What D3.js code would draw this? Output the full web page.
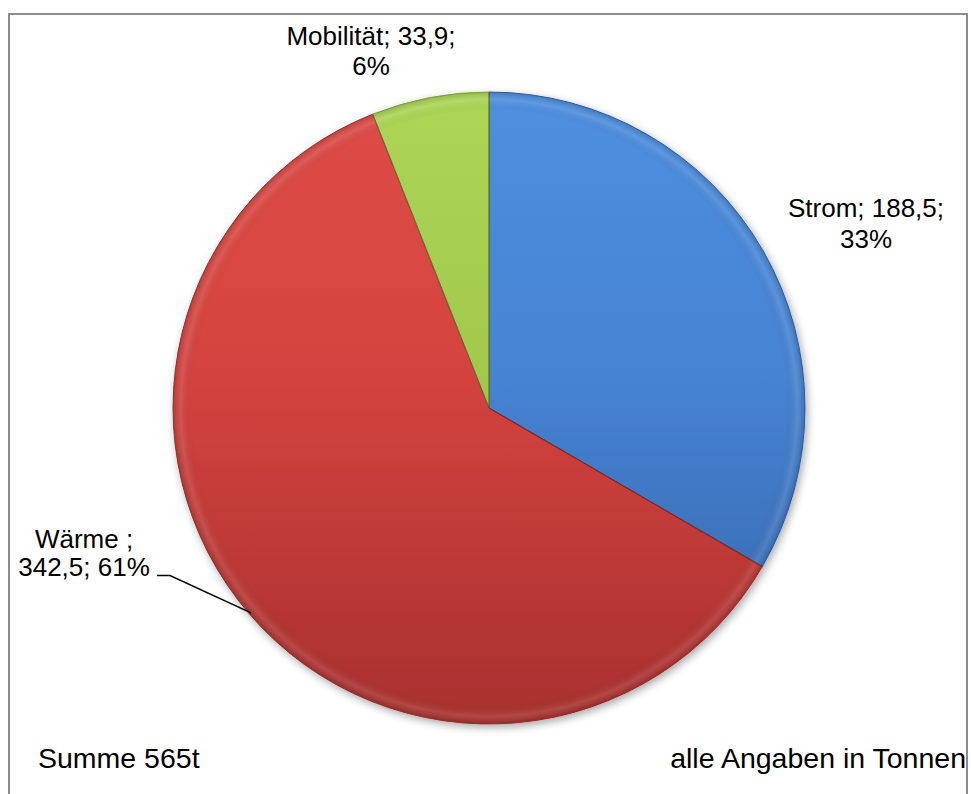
<!DOCTYPE html>
<html>
<head>
<meta charset="utf-8">
<script src="https://cdn.jsdelivr.net/npm/d3@7"></script>
<style>
  html, body { margin: 0; padding: 0; background: #fff; }
  svg { display: block; }
  text { font-family: "Liberation Sans", Arial, sans-serif; fill: #000; }
</style>
</head>
<body>
<svg id="chart" width="971" height="794"></svg>
<script>
// ---- data ----
const categories = ["Strom", "Wärme ", "Mobilität"];
const values = [188.5, 342.5, 33.9];
const totalLabel = "Summe 565t";
const unitNote = "alle Angaben in Tonnen";

// ---- styling / layout ----
const cx = 489, cy = 408, R = 316;
const baseColors = ["#4683d3", "#d4433f", "#a2c84c"];
const darkColors = ["#3563a8", "#a8302e", "#86aa36"];
const lightColors = ["#4e8fe0", "#df4c47", "#acd656"];

const svg = d3.select("#chart");
const defs = svg.append("defs");

// frame
svg.append("rect").attr("x", 9).attr("y", 14).attr("width", 958).attr("height", 800)
  .attr("fill", "#fff").attr("stroke", "#8c8c8c").attr("stroke-width", 2);

// shadow filter
const f = defs.append("filter").attr("id", "shadow").attr("x", "-10%").attr("y", "-10%").attr("width", "120%").attr("height", "120%");
f.append("feGaussianBlur").attr("in", "SourceAlpha").attr("stdDeviation", 4).attr("result", "b");
f.append("feOffset").attr("in", "b").attr("dx", 2).attr("dy", 3).attr("result", "o");
f.append("feComponentTransfer").attr("in", "o").attr("result", "o2")
  .append("feFuncA").attr("type", "linear").attr("slope", 0.35);
const fm = f.append("feMerge");
fm.append("feMergeNode").attr("in", "o2");
fm.append("feMergeNode").attr("in", "SourceGraphic");

// gradients (local coords of the pie group)
categories.forEach((c, i) => {
  const gr = defs.append("linearGradient").attr("id", "g" + i)
    .attr("gradientUnits", "userSpaceOnUse")
    .attr("x1", 0).attr("y1", -R).attr("x2", 0).attr("y2", R);
  gr.append("stop").attr("offset", "0%").attr("stop-color", lightColors[i]);
  gr.append("stop").attr("offset", "45%").attr("stop-color", baseColors[i]);
  gr.append("stop").attr("offset", "100%").attr("stop-color", darkColors[i]);
});
const rg = defs.append("radialGradient").attr("id", "rim")
  .attr("gradientUnits", "userSpaceOnUse").attr("cx", 0).attr("cy", 0).attr("r", R);
rg.append("stop").attr("offset", "0%").attr("stop-color", "#000").attr("stop-opacity", 0);
rg.append("stop").attr("offset", "94%").attr("stop-color", "#000").attr("stop-opacity", 0);
rg.append("stop").attr("offset", "97.5%").attr("stop-color", "#fff").attr("stop-opacity", 0.1);
rg.append("stop").attr("offset", "100%").attr("stop-color", "#000").attr("stop-opacity", 0.15);

const sum = d3.sum(values);
const pie = d3.pie().sort(null).value(d => d)(values);
const arc = d3.arc().innerRadius(0).outerRadius(R);

const g = svg.append("g").attr("transform", `translate(${cx},${cy})`);
const slices = g.append("g").attr("filter", "url(#shadow)");
slices.selectAll("path.slice").data(pie).join("path")
  .attr("class", "slice")
  .attr("d", arc)
  .attr("fill", (d, i) => `url(#g${i})`)
  .attr("stroke", (d, i) => darkColors[i]).attr("stroke-width", 1)
  .attr("stroke-linejoin", "round");
g.append("circle").attr("r", R).attr("fill", "url(#rim)").attr("pointer-events", "none");
g.selectAll("line.div").data(pie).join("line")
  .attr("class", "div")
  .attr("x1", 0).attr("y1", 0)
  .attr("x2", d => R * Math.sin(d.startAngle))
  .attr("y2", d => -R * Math.cos(d.startAngle))
  .attr("stroke", "#2a2a2a").attr("stroke-opacity", 0.45).attr("stroke-width", 1.2);

// labels
const fmtNum = v => d3.format(".1f")(v).replace(".", ",");
const pct = v => Math.round(v / sum * 100) + "%";
const labelLayout = [
  { x: 866, y: 217, dy: 31, lines: i => [categories[i] + "; " + fmtNum(values[i]) + ";", pct(values[i])] },
  { x: 84, y: 548, dy: 28, lines: i => [categories[i] + ";", fmtNum(values[i]) + "; " + pct(values[i])] },
  { x: 371, y: 45, dy: 30, lines: i => [categories[i] + "; " + fmtNum(values[i]) + ";", pct(values[i])] }
];
labelLayout.forEach((L, i) => {
  const t = svg.append("text").attr("text-anchor", "middle").attr("font-size", 26);
  L.lines(i).forEach((s, k) => {
    t.append("tspan").attr("x", L.x).attr("y", L.y + k * L.dy).text(s);
  });
});

// leader line for Wärme (to slice mid-angle on the rim)
const la = (pie[1].startAngle + pie[1].endAngle) / 2;
const lx = cx + (R - 2) * Math.sin(la), ly = cy - (R - 2) * Math.cos(la);
svg.append("polyline")
  .attr("points", `157,575.5 170,575.5 ${lx},${ly}`)
  .attr("fill", "none").attr("stroke", "#000").attr("stroke-width", 1.5);

// footer texts
svg.append("text").attr("x", 38).attr("y", 768).attr("font-size", 28.5).text(totalLabel);
svg.append("text").attr("x", 966).attr("y", 768).attr("font-size", 28.5)
  .attr("text-anchor", "end").text(unitNote);
</script>
</body>
</html>
